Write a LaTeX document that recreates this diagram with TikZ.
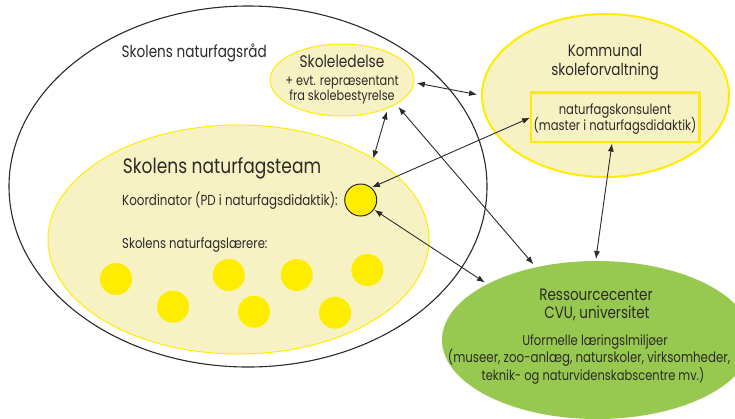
\documentclass[tikz,border=0pt]{standalone}
\usepackage{fontspec}
\setmainfont{Poppins}[FakeStretch=0.82]
\usetikzlibrary{shapes.geometric,arrows.meta}
\definecolor{paleyellow}{RGB}{247,242,196}
\definecolor{signal}{RGB}{255,237,0}
\definecolor{leaf}{RGB}{151,201,80}
\definecolor{ink}{RGB}{45,42,40}
\newcommand\pxsize[1]{\fontsize{#1}{#1}\selectfont}

\begin{document}
\begin{tikzpicture}[x=1pt,y=-1pt,
  blob/.style={ellipse, inner sep=0pt, outer sep=0pt},
  link/.style={draw=ink, line width=0.9pt,
    {Latex[length=8pt,width=6pt]}-{Latex[length=8pt,width=6pt]}},
  lbl/.style={text=ink, inner sep=0pt, align=center},
  teacher/.style={circle, fill=signal, minimum size=32pt, inner sep=0pt, outer sep=0pt}
]
\useasboundingbox (0,0) rectangle (735,418);
\clip (0,0) rectangle (735,418);
\fill[white] (0,0) rectangle (735,418);

% outer council ring
\node[blob, draw=ink, line width=1.1pt, minimum width=478pt, minimum height=361pt] (raad) at (248,186.5) {};
% science team
\node[blob, fill=paleyellow, draw=signal, line width=1pt, minimum width=381pt, minimum height=229pt] (team) at (238.5,239.5) {};
% school management
\node[blob, fill=paleyellow, draw=signal, line width=1pt, minimum width=144pt, minimum height=72pt] (led) at (342,80) {};
% municipal administration
\node[blob, fill=paleyellow, draw=signal, line width=2pt, minimum width=247pt, minimum height=163pt] (komm) at (605.5,95.5) {};
\node[draw=signal, line width=2.2pt, minimum width=168.5pt, minimum height=49.5pt, inner sep=0pt, outer sep=0pt] (kons) at (615.2,117.3) {};
% resource centre
\node[blob, fill=leaf, minimum width=310pt, minimum height=158pt] (ress) at (597,340) {};

% coordinator and teachers
\node[circle, fill=signal, draw=ink, line width=1pt, minimum size=32pt, inner sep=0pt, outer sep=0pt] (koord) at (360.7,200) {};
\node[teacher] (t1) at (116,279) {};
\node[teacher] (t2) at (173,306.7) {};
\node[teacher] (t3) at (228.7,275) {};
\node[teacher] (t4) at (254,311.7) {};
\node[teacher] (t5) at (296.7,275) {};
\node[teacher] (t6) at (335,312.7) {};
\node[teacher] (t7) at (367.3,270) {};

% labels
\node[lbl, anchor=base west, font=\pxsize{16.6}] (raadtxt) at (121.5,57.3) {Skolens naturfagsråd};
\node[lbl, anchor=base, font=\pxsize{16.8}] (ledA) at (342,67.7) {Skoleledelse};
\node[lbl, anchor=base, font=\pxsize{13.8}] (ledB) at (342,85) {+ evt. repræsentant};
\node[lbl, anchor=base, font=\pxsize{13.8}] (ledC) at (342,100) {fra skolebestyrelse};
\node[lbl, anchor=base, font=\pxsize{16.5}] (kommA) at (605,56) {Kommunal};
\node[lbl, anchor=base, font=\pxsize{16.5}] (kommB) at (605,75) {skoleforvaltning};
\node[lbl, anchor=base, font=\pxsize{14.1}] (konsA) at (615,114) {naturfagskonsulent};
\node[lbl, anchor=base, font=\pxsize{14.1}] (konsB) at (615,130) {(master i naturfagsdidaktik)};
\node[lbl, anchor=base west, font=\pxsize{20.8}] (teamtxt) at (122.7,173.3) {Skolens naturfagsteam};
\node[lbl, anchor=base west, font=\pxsize{14.5}] (koordtxt) at (122,205.3) {Koordinator (PD i naturfagsdidaktik):};
\node[lbl, anchor=base west, font=\pxsize{14.2}] (laerer) at (122,248.3) {Skolens naturfagslærere:};
\node[lbl, anchor=base, font=\pxsize{16.5}] (ressA) at (596,300) {Ressourcecenter};
\node[lbl, anchor=base, font=\pxsize{16.5}] (ressB) at (597,318.3) {CVU, universitet};
\node[lbl, anchor=base, font=\pxsize{14.2}] (ressC) at (595,345) {Uformelle læringslmiljøer};
\node[lbl, anchor=base, font=\pxsize{14.4}] (ressD) at (589,362.7) {(museer, zoo-anlæg, naturskoler, virksomheder,};
\node[lbl, anchor=base, font=\pxsize{14}] (ressE) at (593,380) {teknik- og naturvidenskabscentre mv.)};

% connections
\draw[link, shorten <=3pt, shorten >=5pt] (led.-2) -- (komm.180);
\draw[link, shorten <=4pt] (led.-31) -- (team.31.5);
\draw[link, shorten <=4pt, shorten >=4pt] (led.-24.5) -- (ress.130.2);
\draw[link, shorten <=1pt, shorten >=1pt] (kons.west) -- (koord.50);
\draw[link, shorten <=1pt, shorten >=3pt] (koord.-36) -- (ress.153);
\draw[link, shorten <=1.5pt, shorten >=2pt] (kons.-97.5) -- (ress.91);
\end{tikzpicture}
\end{document}
